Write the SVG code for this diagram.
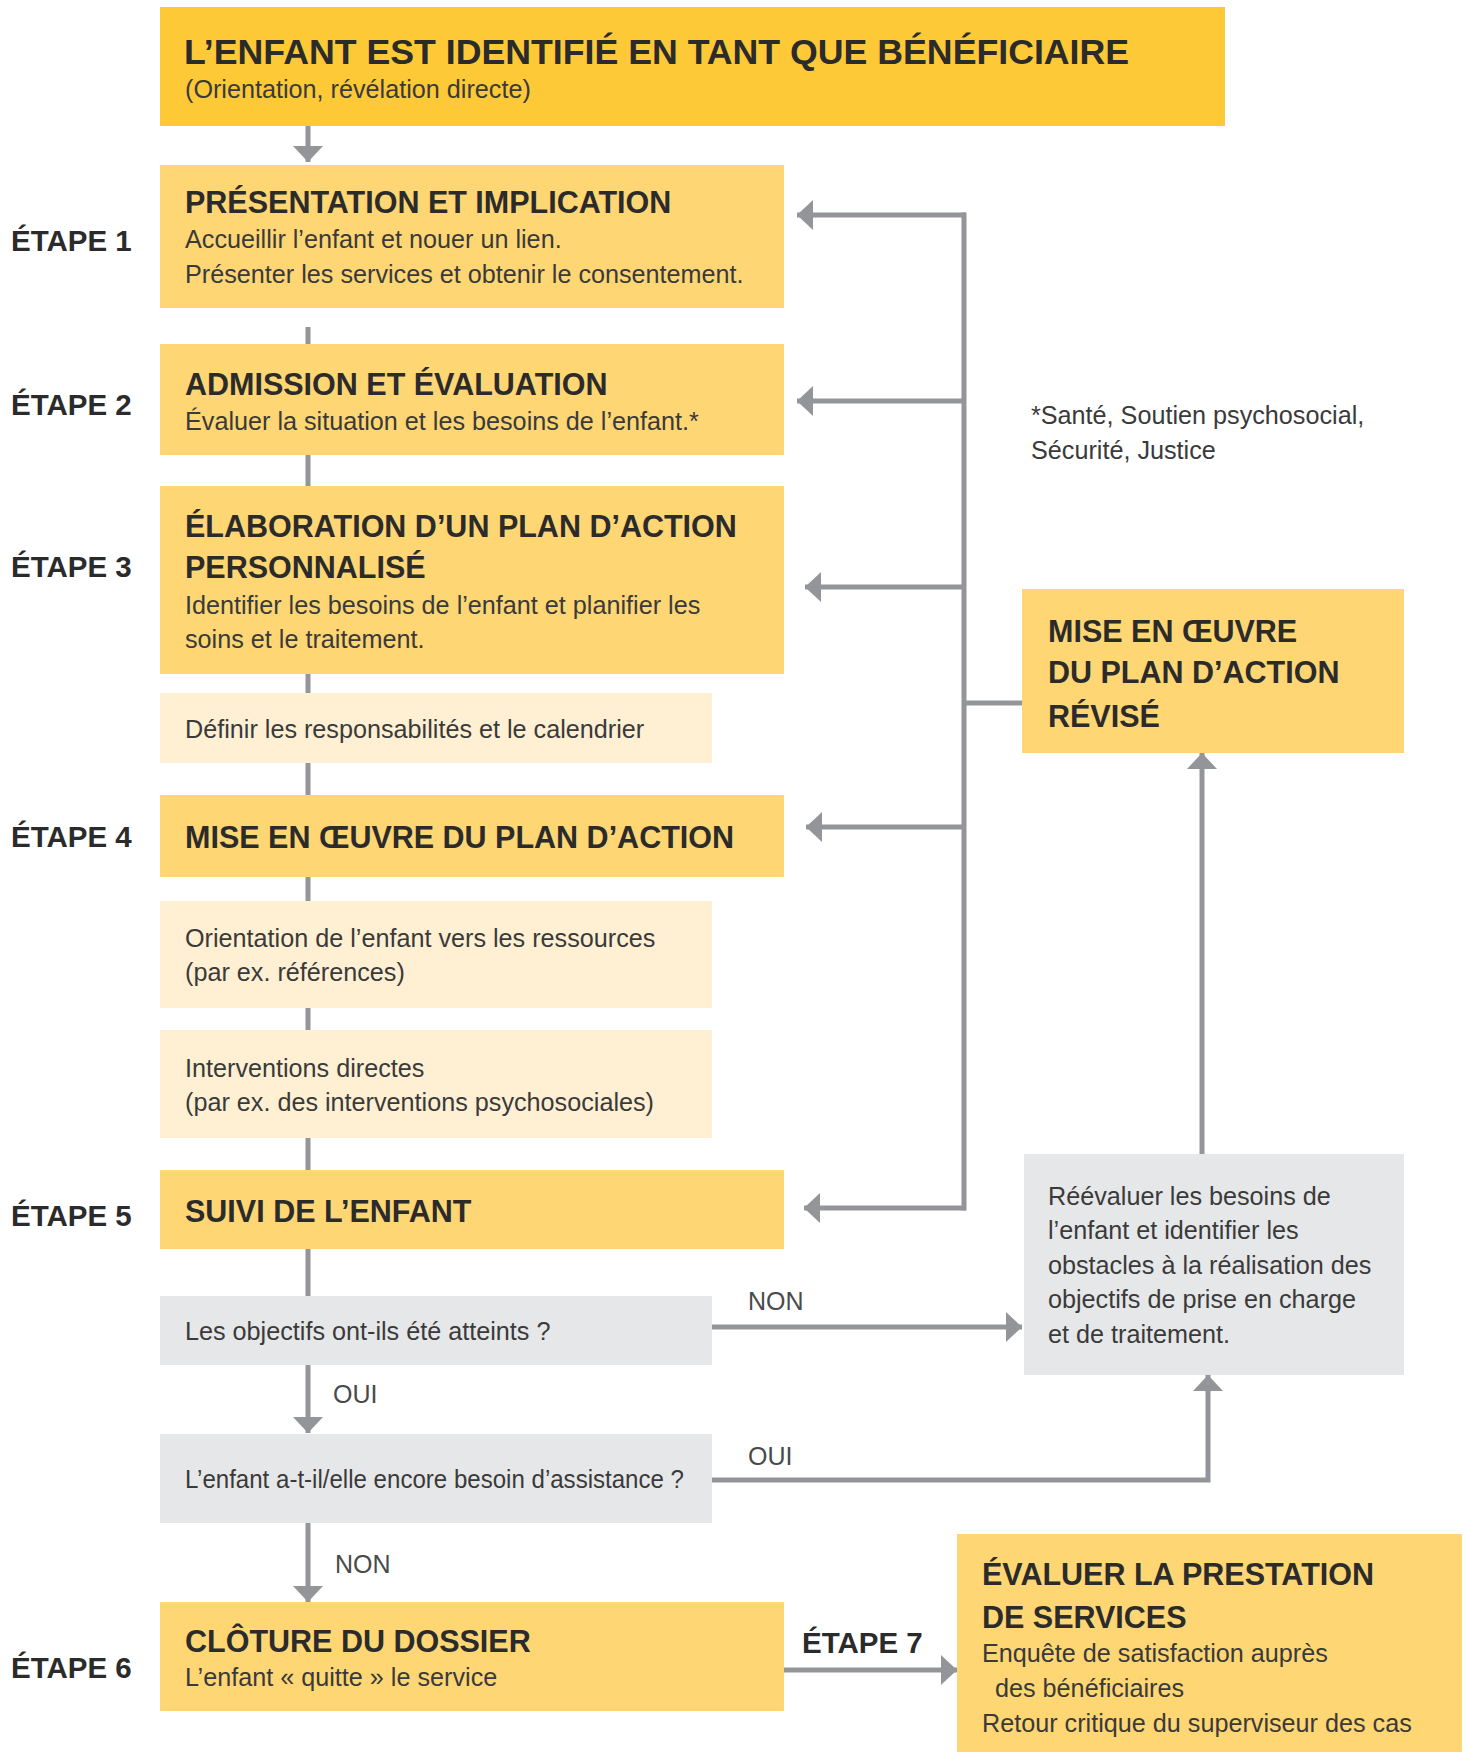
<svg xmlns="http://www.w3.org/2000/svg" width="1468" height="1752" viewBox="0 0 1468 1752">
<style>
text{font-family:"Liberation Sans",Arial,sans-serif;fill:#2b2b2b}
.top{fill:#FDC937}
.step{fill:#FED673}
.sub{fill:#FFF0D3}
.q{fill:#E6E7E8}
.h{font-weight:bold;font-size:30.5px}
.t{font-weight:bold;font-size:35.7px}
.b{font-size:25.2px;fill:#3a3a3a}
.lbl{font-weight:bold;font-size:29.5px}
.yn{font-size:25px;fill:#4a4a4a}
.c{stroke:#939598;stroke-width:5;fill:none}
</style>
<defs>
<marker id="ah" markerUnits="userSpaceOnUse" markerWidth="17" markerHeight="30" refX="16" refY="15" orient="auto" viewBox="0 0 17 30">
<path d="M0,0 L16,15 L0,30 z" fill="#939598"/>
</marker>
</defs>

<g id="connectors">
<path class="c" d="M308,126 V162" marker-end="url(#ah)"/>
<path class="c" d="M308,327 V344"/>
<path class="c" d="M308,455 V486"/>
<path class="c" d="M308,674 V693"/>
<path class="c" d="M308,763 V795"/>
<path class="c" d="M308,877 V901"/>
<path class="c" d="M308,1008 V1030"/>
<path class="c" d="M308,1138 V1170"/>
<path class="c" d="M308,1249 V1296"/>
<path class="c" d="M308,1365 V1433" marker-end="url(#ah)"/>
<path class="c" d="M308,1522 V1602" marker-end="url(#ah)"/>
<path class="c" d="M964,212.5 V1210.5"/>
<path class="c" d="M966,215 H797" marker-end="url(#ah)"/>
<path class="c" d="M966,401 H797" marker-end="url(#ah)"/>
<path class="c" d="M966,587 H805" marker-end="url(#ah)"/>
<path class="c" d="M966,827 H806" marker-end="url(#ah)"/>
<path class="c" d="M966,1208 H804" marker-end="url(#ah)"/>
<path class="c" d="M962,703 H1023"/>
<path class="c" d="M1202,1155 V753" marker-end="url(#ah)"/>
<path class="c" d="M712,1327 H1022" marker-end="url(#ah)"/>
<path class="c" d="M712,1480 H1208 V1375" marker-end="url(#ah)"/>
<path class="c" d="M784,1670 H957" marker-end="url(#ah)"/>
<text class="yn" x="748" y="1310">NON</text>
<text class="yn" x="748" y="1465">OUI</text>
<text class="yn" x="333" y="1403">OUI</text>
<text class="yn" x="335" y="1573">NON</text>
</g>

<g id="labels">
<text class="lbl" x="11" y="251">ÉTAPE 1</text>
<text class="lbl" x="11" y="415">ÉTAPE 2</text>
<text class="lbl" x="11" y="577">ÉTAPE 3</text>
<text class="lbl" x="11" y="847">ÉTAPE 4</text>
<text class="lbl" x="11" y="1226">ÉTAPE 5</text>
<text class="lbl" x="11" y="1678">ÉTAPE 6</text>
<text class="lbl" x="802" y="1653">ÉTAPE 7</text>
</g>

<g id="identified">
<rect class="top" x="160" y="7" width="1065" height="119"/>
<text class="t" x="184" y="64">L’ENFANT EST IDENTIFIÉ EN TANT QUE BÉNÉFICIAIRE</text>
<text class="b" x="185" y="98">(Orientation, révélation directe)</text>
</g>

<g id="step1">
<rect class="step" x="160" y="165" width="624" height="143"/>
<text class="h" x="185" y="213">PRÉSENTATION ET IMPLICATION</text>
<text class="b" x="185" y="248">Accueillir l’enfant et nouer un lien.</text>
<text class="b" x="185" y="283">Présenter les services et obtenir le consentement.</text>
</g>

<g id="step2">
<rect class="step" x="160" y="344" width="624" height="111"/>
<text class="h" x="185" y="395">ADMISSION ET ÉVALUATION</text>
<text class="b" x="185" y="430">Évaluer la situation et les besoins de l’enfant.*</text>
</g>

<g id="step3">
<rect class="step" x="160" y="486" width="624" height="188"/>
<text class="h" x="185" y="537">ÉLABORATION D’UN PLAN D’ACTION</text>
<text class="h" x="185" y="578">PERSONNALISÉ</text>
<text class="b" x="185" y="614">Identifier les besoins de l’enfant et planifier les</text>
<text class="b" x="185" y="648">soins et le traitement.</text>
</g>

<g id="define">
<rect class="sub" x="160" y="693" width="552" height="70"/>
<text class="b" x="185" y="738">Définir les responsabilités et le calendrier</text>
</g>

<g id="step4">
<rect class="step" x="160" y="795" width="624" height="82"/>
<text class="h" x="185" y="848">MISE EN ŒUVRE DU PLAN D’ACTION</text>
</g>

<g id="referral">
<rect class="sub" x="160" y="901" width="552" height="107"/>
<text class="b" x="185" y="947">Orientation de l’enfant vers les ressources</text>
<text class="b" x="185" y="981">(par ex. références)</text>
</g>

<g id="direct">
<rect class="sub" x="160" y="1030" width="552" height="108"/>
<text class="b" x="185" y="1077">Interventions directes</text>
<text class="b" x="185" y="1111">(par ex. des interventions psychosociales)</text>
</g>

<g id="step5">
<rect class="step" x="160" y="1170" width="624" height="79"/>
<text class="h" x="185" y="1222">SUIVI DE L’ENFANT</text>
</g>

<g id="q1">
<rect class="q" x="160" y="1296" width="552" height="69"/>
<text class="b" x="185" y="1340">Les objectifs ont-ils été atteints ?</text>
</g>

<g id="q2">
<rect class="q" x="160" y="1434" width="552" height="89"/>
<text class="b" x="185" y="1488" textLength="499" lengthAdjust="spacingAndGlyphs">L’enfant a-t-il/elle encore besoin d’assistance ?</text>
</g>

<g id="step6">
<rect class="step" x="160" y="1602" width="624" height="109"/>
<text class="h" x="185" y="1652">CLÔTURE DU DOSSIER</text>
<text class="b" x="185" y="1686">L’enfant « quitte » le service</text>
</g>

<g id="step7">
<rect class="step" x="957" y="1534" width="505" height="218"/>
<text class="h" x="982" y="1585">ÉVALUER LA PRESTATION</text>
<text class="h" x="982" y="1628">DE SERVICES</text>
<text class="b" x="982" y="1662">Enquête de satisfaction auprès</text>
<text class="b" x="995" y="1697">des bénéficiaires</text>
<text class="b" x="982" y="1732">Retour critique du superviseur des cas</text>
</g>

<g id="note">
<text class="b" x="1031" y="424">*Santé, Soutien psychosocial,</text>
<text class="b" x="1031" y="459">Sécurité, Justice</text>
</g>

<g id="revised">
<rect class="step" x="1022" y="589" width="382" height="164"/>
<text class="h" x="1048" y="642">MISE EN ŒUVRE</text>
<text class="h" x="1048" y="683">DU PLAN D’ACTION</text>
<text class="h" x="1048" y="727">RÉVISÉ</text>
</g>

<g id="reassess">
<rect class="q" x="1024" y="1154" width="380" height="221"/>
<text class="b" x="1048" y="1205">Réévaluer les besoins de</text>
<text class="b" x="1048" y="1239">l’enfant et identifier les</text>
<text class="b" x="1048" y="1274">obstacles à la réalisation des</text>
<text class="b" x="1048" y="1308">objectifs de prise en charge</text>
<text class="b" x="1048" y="1343">et de traitement.</text>
</g>
</svg>
